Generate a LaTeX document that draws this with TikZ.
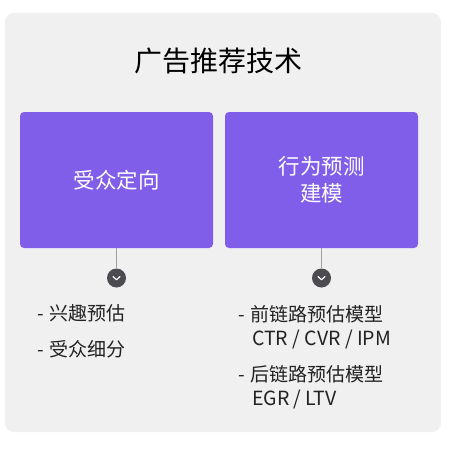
\documentclass[tikz,border=0pt]{standalone}
\usepackage{fontspec}
\setmainfont{Noto Sans CJK SC}
\usetikzlibrary{calc}
\usetikzlibrary{positioning}
\definecolor{panelgray}{RGB}{241,240,241}
\definecolor{boxpurple}{RGB}{128,94,234}
\definecolor{knobgray}{RGB}{75,75,80}
\definecolor{linegray}{RGB}{160,160,160}
\definecolor{textdark}{RGB}{34,34,34}

\begin{document}
\begin{tikzpicture}
[x=1pt,y=-1pt,
 box/.style={rectangle,rounded corners=4pt,fill=boxpurple,text=white,minimum width=193pt,minimum height=136pt,align=center,inner sep=0pt,font=\fontsize{21.5}{27}\selectfont},
 knob/.style={circle,fill=knobgray,minimum size=19pt,inner sep=0pt},
 item/.style={anchor=west,text=textdark,inner sep=0pt,font=\fontsize{19}{24}\selectfont},
 link/.style={draw=linegray,line width=1.6pt}]

\useasboundingbox (0,0) rectangle (450,452);
\fill[panelgray,rounded corners=9pt] (5,13) rectangle (441,432);

\node[text=black,font=\fontsize{28}{33}\selectfont] (title) at (218.5,61) {广告推荐技术};

\node[box] (aud) at (116.5,180) {受众定向};
\node[box] (beh) at (321.5,180) {行为预测\\建模};

\node[knob] (k1) at (116.5,278) {};
\node[knob] (k2) at (321.5,278) {};

\draw[link] (aud) -- (k1);
\draw[link] (beh) -- (k2);

% chevrons
\foreach \k in {k1,k2}
  \draw[white,line width=1.2pt,line cap=round,line join=round]
    ($(\k)+(-3.5,-1.5)$) -- ($(\k)+(0,1.8)$) -- ($(\k)+(3.5,-1.5)$);

\node[item] (i1) at (37,313) {-\hspace{6pt}兴趣预估};
\node[item] (i2) at (37,349) {-\hspace{6pt}受众细分};

\node[item] (j1) at (238,314) {-\hspace{6pt}前链路预估模型};
\node[item,font=\fontsize{19.5}{24}\selectfont] (j1b) at (252,339) {CTR / CVR / IPM};
\node[item] (j2) at (238,374) {-\hspace{6pt}后链路预估模型};
\node[item,font=\fontsize{19.5}{24}\selectfont] (j2b) at (252,399) {EGR / LTV};

\end{tikzpicture}
\end{document}
